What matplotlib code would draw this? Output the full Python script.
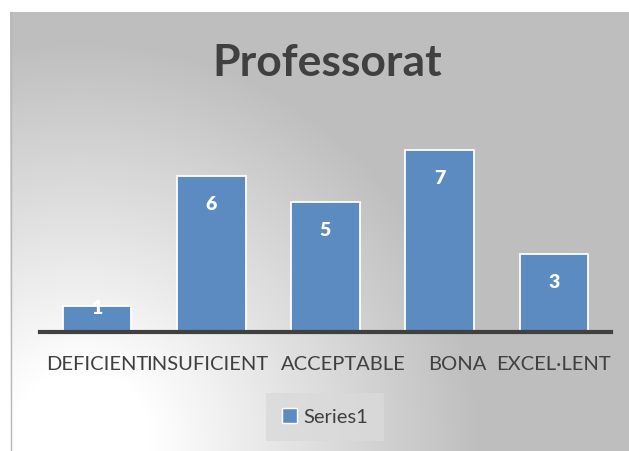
import numpy as np
import matplotlib
matplotlib.use("Agg")
import matplotlib.pyplot as plt
import matplotlib.transforms as mtransforms
from matplotlib.patches import Patch

categories = ["DEFICIENT", "INSUFICIENT", "ACCEPTABLE", "BONA", "EXCEL·LENT"]
values = [1, 6, 5, 7, 3]
series_name = "Series1"
title = "Professorat"

W, H = 629, 451
BAR_COLOR = "#5B8BC0"
TEXT_COLOR = "#404040"
# the source app nudged some crowded category labels sideways (pixels)
label_shift = [0, -4, 18, 18, 0]

plt.rcParams["font.family"] = ["Lato", "DejaVu Sans"]

fig = plt.figure(figsize=(W / 100, H / 100), dpi=100)
fig.patch.set_facecolor("white")

# background panel with a radial light spot at the lower left
bg = fig.add_axes([10 / W, 0, 1 - 10 / W, (H - 12) / H])
yy, xx = np.mgrid[12:H, 10:W]
r = np.hypot(xx - 80, yy - 440)
t = np.clip((r - 70) / 330, 0, 1)
shade = 255 - t * (255 - 190)
img = np.dstack([shade, shade, shade]) / 255
bg.imshow(img, aspect="auto", extent=[0, 1, 0, 1], interpolation="bilinear")
bg.set_axis_off()
fig.add_artist(plt.Line2D([10.5 / W, 10.5 / W], [0, (H - 12) / H], color="#B8B8B8", lw=1))

ax = fig.add_axes([40 / W, (H - 332) / H, 571 / W, 208 / H])
ax.patch.set_alpha(0)
x = np.arange(len(categories))
ax.bar(x, values, width=0.6, color=BAR_COLOR, edgecolor="white", linewidth=1.3, zorder=2)
ax.set_xlim(-0.5, len(categories) - 0.5)
ax.set_ylim(0, 8)

for xi, v in zip(x, values):
    ly = v - 1.08 if v > 2 else v - 0.08
    ax.text(xi, ly, str(v), ha="center", va="center", color="white",
            fontsize=14, fontweight="heavy", zorder=3)

for s in ["top", "right", "left"]:
    ax.spines[s].set_visible(False)
ax.spines["bottom"].set_color(TEXT_COLOR)
ax.spines["bottom"].set_linewidth(3)
ax.set_yticks([])
ax.set_xticks(x)
ax.set_xticklabels(categories, fontsize=14.5, color=TEXT_COLOR)
ax.tick_params(axis="x", length=0, pad=17)
for lab, dx in zip(ax.get_xticklabels(), label_shift):
    lab.set_transform(lab.get_transform()
                      + mtransforms.ScaledTranslation(dx / 100, 0, fig.dpi_scale_trans))

fig.text(0.52, (H - 63) / H, title, ha="center", va="center",
         fontsize=32, fontweight="bold", color=TEXT_COLOR)

leg = fig.legend(handles=[Patch(facecolor=BAR_COLOR, edgecolor="white", label=series_name)],
                 loc="center", bbox_to_anchor=(325 / W, (H - 417) / H),
                 frameon=True, fontsize=14.5, handlelength=0.75, handleheight=0.75,
                 handletextpad=0.35, borderpad=0.75, fancybox=False)
leg.get_frame().set_facecolor("#DADADA")
leg.get_frame().set_edgecolor("none")
for txt in leg.get_texts():
    txt.set_color(TEXT_COLOR)

fig.savefig("out.png", dpi=100)
